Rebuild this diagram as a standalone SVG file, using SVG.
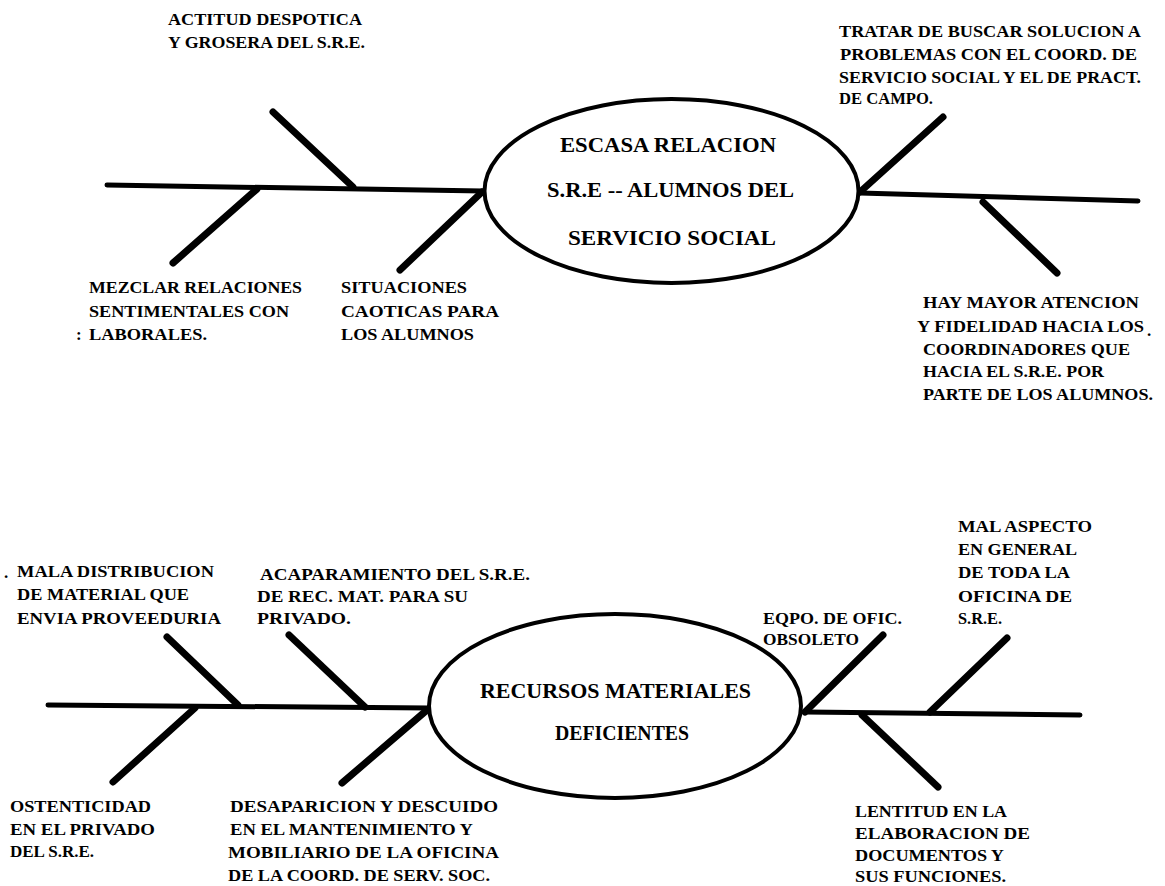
<svg xmlns="http://www.w3.org/2000/svg" width="1165" height="886" viewBox="0 0 1165 886">
<style>
.t{font-family:"Liberation Serif","DejaVu Serif",serif;font-weight:bold;font-size:17px;fill:#000}
.h{font-family:"Liberation Serif","DejaVu Serif",serif;font-weight:bold;font-size:20px;fill:#000}
.sp{stroke:#000;stroke-width:5;stroke-linecap:round;fill:none}
.bn{stroke:#000;stroke-width:7;stroke-linecap:round;fill:none}
.el{stroke:#000;stroke-width:4;fill:#fff}
</style>
<rect width="1165" height="886" fill="#fff"/>
<g id="connectors">
  <line class="sp" x1="107" y1="185" x2="483" y2="191"/>
  <line class="bn" x1="273" y1="112" x2="353" y2="187"/>
  <line class="bn" x1="257" y1="189" x2="173" y2="263"/>
  <line class="bn" x1="482" y1="192" x2="400" y2="270"/>
  <line class="sp" x1="860" y1="193" x2="1138" y2="201"/>
  <line class="bn" x1="860" y1="192" x2="943" y2="117"/>
  <line class="bn" x1="983" y1="202" x2="1057" y2="273"/>
  <line class="sp" x1="48" y1="705" x2="429" y2="708"/>
  <line class="bn" x1="167" y1="637" x2="238" y2="705"/>
  <line class="bn" x1="195" y1="708" x2="113" y2="782"/>
  <line class="bn" x1="289" y1="635" x2="365" y2="707"/>
  <line class="bn" x1="427" y1="710" x2="342" y2="783"/>
  <line class="sp" x1="805" y1="712" x2="1080" y2="715"/>
  <line class="bn" x1="805" y1="712" x2="883" y2="635"/>
  <line class="bn" x1="930" y1="712" x2="1007" y2="638"/>
  <line class="bn" x1="862" y1="715" x2="938" y2="787"/>
</g>
<g id="effect-escasa-relacion">
  <ellipse class="el" cx="671.5" cy="191" rx="187" ry="92"/>
  <text class="h" x="560" y="152" textLength="216" lengthAdjust="spacingAndGlyphs">ESCASA RELACION</text>
  <text class="h" x="547" y="197" textLength="247" lengthAdjust="spacingAndGlyphs">S.R.E -- ALUMNOS DEL</text>
  <text class="h" x="568" y="245" textLength="208" lengthAdjust="spacingAndGlyphs">SERVICIO SOCIAL</text>
</g>
<g id="cause-actitud">
  <text class="t" x="168" y="25" textLength="194" lengthAdjust="spacingAndGlyphs">ACTITUD DESPOTICA</text>
  <text class="t" x="168" y="48" textLength="197" lengthAdjust="spacingAndGlyphs">Y GROSERA DEL S.R.E.</text>
</g>
<g id="cause-mezclar">
  <text class="t" x="89" y="293" textLength="213" lengthAdjust="spacingAndGlyphs">MEZCLAR RELACIONES</text>
  <text class="t" x="89" y="317" textLength="200" lengthAdjust="spacingAndGlyphs">SENTIMENTALES CON</text>
  <text class="t" x="76" y="340">:</text>
  <text class="t" x="89" y="340" textLength="118" lengthAdjust="spacingAndGlyphs">LABORALES.</text>
</g>
<g id="cause-situaciones">
  <text class="t" x="341" y="293" textLength="126" lengthAdjust="spacingAndGlyphs">SITUACIONES</text>
  <text class="t" x="341" y="317" textLength="158" lengthAdjust="spacingAndGlyphs">CAOTICAS PARA</text>
  <text class="t" x="341" y="340" textLength="133" lengthAdjust="spacingAndGlyphs">LOS ALUMNOS</text>
</g>
<g id="cause-tratar">
  <text class="t" x="839" y="37" textLength="302" lengthAdjust="spacingAndGlyphs">TRATAR DE BUSCAR SOLUCION A</text>
  <text class="t" x="840" y="60" textLength="297" lengthAdjust="spacingAndGlyphs">PROBLEMAS CON EL COORD.  DE</text>
  <text class="t" x="839" y="83" textLength="302" lengthAdjust="spacingAndGlyphs">SERVICIO SOCIAL Y EL DE PRACT.</text>
  <text class="t" x="839" y="104" textLength="94" lengthAdjust="spacingAndGlyphs">DE CAMPO.</text>
</g>
<g id="cause-hay-mayor">
  <text class="t" x="923" y="308" textLength="216" lengthAdjust="spacingAndGlyphs">HAY MAYOR  ATENCION</text>
  <text class="t" x="917" y="332" textLength="227" lengthAdjust="spacingAndGlyphs">Y FIDELIDAD HACIA LOS</text>
  <text class="t" x="1147" y="336">.</text>
  <text class="t" x="923" y="355" textLength="207" lengthAdjust="spacingAndGlyphs">COORDINADORES QUE</text>
  <text class="t" x="923" y="377" textLength="181" lengthAdjust="spacingAndGlyphs">HACIA EL S.R.E. POR</text>
  <text class="t" x="923" y="400" textLength="230" lengthAdjust="spacingAndGlyphs">PARTE DE LOS ALUMNOS.</text>
</g>
<g id="effect-recursos">
  <ellipse class="el" cx="615" cy="706" rx="186" ry="92"/>
  <text class="h" x="480" y="698" textLength="271" lengthAdjust="spacingAndGlyphs">RECURSOS MATERIALES</text>
  <text class="h" x="555" y="740" textLength="134" lengthAdjust="spacingAndGlyphs">DEFICIENTES</text>
</g>
<g id="cause-mala-distribucion">
  <text class="t" x="4" y="578">.</text>
  <text class="t" x="17" y="577" textLength="197" lengthAdjust="spacingAndGlyphs">MALA DISTRIBUCION</text>
  <text class="t" x="17" y="600" textLength="172" lengthAdjust="spacingAndGlyphs">DE MATERIAL QUE</text>
  <text class="t" x="17" y="624" textLength="204" lengthAdjust="spacingAndGlyphs">ENVIA PROVEEDURIA</text>
</g>
<g id="cause-acaparamiento">
  <text class="t" x="260" y="580" textLength="270" lengthAdjust="spacingAndGlyphs">ACAPARAMIENTO DEL S.R.E.</text>
  <text class="t" x="257" y="602" textLength="211" lengthAdjust="spacingAndGlyphs">DE REC. MAT. PARA SU</text>
  <text class="t" x="257" y="624" textLength="94" lengthAdjust="spacingAndGlyphs">PRIVADO.</text>
</g>
<g id="cause-ostenticidad">
  <text class="t" x="10" y="812" textLength="141" lengthAdjust="spacingAndGlyphs">OSTENTICIDAD</text>
  <text class="t" x="10" y="835" textLength="145" lengthAdjust="spacingAndGlyphs">EN EL PRIVADO</text>
  <text class="t" x="10" y="857" textLength="84" lengthAdjust="spacingAndGlyphs">DEL S.R.E.</text>
</g>
<g id="cause-desaparicion">
  <text class="t" x="230" y="812" textLength="268" lengthAdjust="spacingAndGlyphs">DESAPARICION Y DESCUIDO</text>
  <text class="t" x="230" y="835" textLength="243" lengthAdjust="spacingAndGlyphs">EN EL MANTENIMIENTO Y</text>
  <text class="t" x="228" y="858" textLength="271" lengthAdjust="spacingAndGlyphs">MOBILIARIO DE LA OFICINA</text>
  <text class="t" x="228" y="881" textLength="262" lengthAdjust="spacingAndGlyphs">DE LA COORD. DE SERV. SOC.</text>
</g>
<g id="cause-eqpo">
  <text class="t" x="763" y="624" textLength="139" lengthAdjust="spacingAndGlyphs">EQPO. DE OFIC.</text>
  <text class="t" x="763" y="645" textLength="96" lengthAdjust="spacingAndGlyphs">OBSOLETO</text>
</g>
<g id="cause-mal-aspecto">
  <text class="t" x="958" y="532" textLength="134" lengthAdjust="spacingAndGlyphs">MAL ASPECTO</text>
  <text class="t" x="958" y="555" textLength="119" lengthAdjust="spacingAndGlyphs">EN GENERAL</text>
  <text class="t" x="958" y="578" textLength="112" lengthAdjust="spacingAndGlyphs">DE TODA LA</text>
  <text class="t" x="958" y="602" textLength="114" lengthAdjust="spacingAndGlyphs">OFICINA DE</text>
  <text class="t" x="958" y="624" textLength="44" lengthAdjust="spacingAndGlyphs">S.R.E.</text>
</g>
<g id="cause-lentitud">
  <text class="t" x="855" y="817" textLength="152" lengthAdjust="spacingAndGlyphs">LENTITUD EN LA</text>
  <text class="t" x="855" y="839" textLength="175" lengthAdjust="spacingAndGlyphs">ELABORACION DE</text>
  <text class="t" x="855" y="861" textLength="149" lengthAdjust="spacingAndGlyphs">DOCUMENTOS Y</text>
  <text class="t" x="855" y="882" textLength="151" lengthAdjust="spacingAndGlyphs">SUS FUNCIONES.</text>
</g>
</svg>
